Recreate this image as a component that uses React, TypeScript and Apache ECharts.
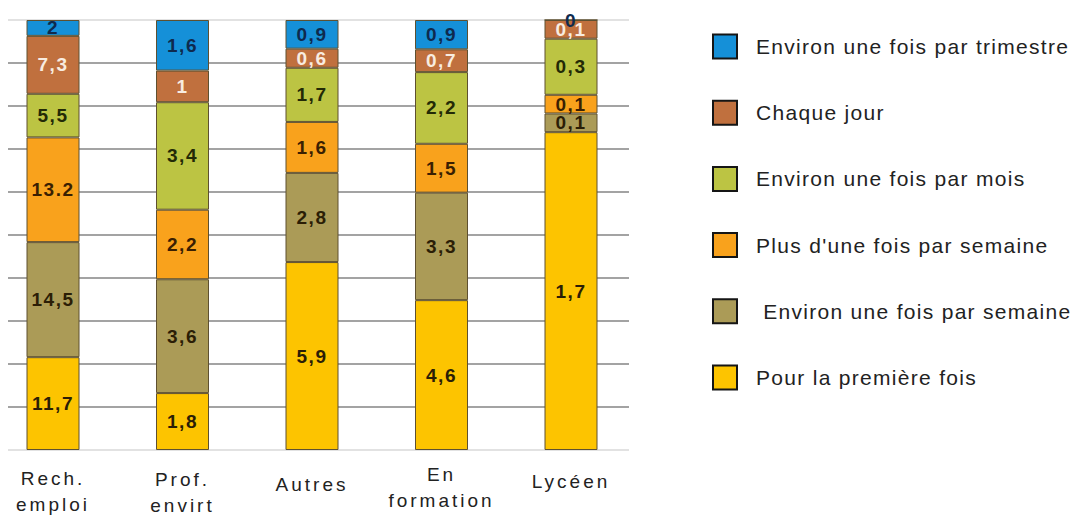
import React, { useEffect, useRef } from 'react';
import * as echarts from 'echarts';

const categories = ['Rech.\nemploi', 'Prof.\nenvirt', 'Autres', 'En\nformation', 'Lycéen'];
const categoryPadTop = [4, 5, 10, 0, 7];

const premiereFois = [11.7, 1.8, 5.9, 4.6, 1.7];
const environSemaine = [14.5, 3.6, 2.8, 3.3, 0.1];
const plusSemaine = [13.2, 2.2, 1.6, 1.5, 0.1];
const environMois = [5.5, 3.4, 1.7, 2.2, 0.3];
const chaqueJour = [7.3, 1, 0.6, 0.7, 0.1];
const trimestre = [2, 1.6, 0.9, 0.9, 0];

const seriesNames = [
  'Pour la première fois',
  ' Environ une fois par semaine',
  "Plus d'une fois par semaine",
  'Environ une fois par mois',
  'Chaque jour',
  'Environ une fois par trimestre',
];
const seriesValues = [premiereFois, environSemaine, plusSemaine, environMois, chaqueJour, trimestre];
const seriesColors = ['#fdc400', '#ab9b57', '#f9a21c', '#bcc443', '#c0703e', '#1590d8'];
const labelColors = ['#2b1e06', '#2b1e06', '#3a1f02', '#232a06', '#f8ece0', '#0e2a4e'];
// cells whose label was printed with a decimal point instead of a comma
const dotDecimalCells = [[2, 0]];

const legendOrder = [...seriesNames].reverse();

const totals = categories.map((_, i) => seriesValues.reduce((s, arr) => s + arr[i], 0));

const FONT = "'Liberation Sans', Arial, sans-serif";

export default function App() {
  const ref = useRef<HTMLDivElement>(null);
  useEffect(() => {
    const el = ref.current!;
    const chart = echarts.init(el, undefined, { renderer: 'svg' });
    const gridColors = Array.from({ length: 11 }, (_, i) => (i === 0 || i === 10 ? '#d9d9d9' : '#858585'));
    const option: any = {
      animation: false,
      backgroundColor: '#ffffff',
      grid: [
        { left: 8, top: 20, width: 621, height: 430, outerBoundsMode: 'none', containLabel: false },
        { left: -11.75, top: 20, width: 647.5, height: 430, outerBoundsMode: 'none', containLabel: false },
      ],
      xAxis: [
        { gridIndex: 0, type: 'category', data: categories, show: false },
        {
          gridIndex: 1,
          type: 'category',
          data: categories.map((c, i) => ({ value: c, textStyle: { padding: [categoryPadTop[i], 0, 0, 0] } })),
          axisLine: { show: false },
          axisTick: { show: false },
          splitLine: { show: false },
          axisLabel: {
            interval: 0,
            margin: 11,
            fontSize: 19,
            lineHeight: 26.5,
            color: '#222222',
            fontFamily: FONT,
          },
        },
      ],
      yAxis: [
        {
          gridIndex: 0,
          type: 'value',
          min: 0,
          max: 100,
          interval: 10,
          axisLine: { show: false },
          axisTick: { show: false },
          axisLabel: { show: false },
          splitLine: { show: true, lineStyle: { color: gridColors, width: 1.6 } },
        },
        { gridIndex: 1, type: 'value', min: 0, max: 100, interval: 10, show: false, splitLine: { show: false } },
      ],
      legend: {
        orient: 'vertical',
        left: 707,
        top: 28.5,
        itemWidth: 24,
        itemHeight: 24,
        itemGap: 40.2,
        icon: 'rect',
        data: legendOrder,
        selectedMode: false,
        itemStyle: { borderColor: '#151515', borderWidth: 2 },
        formatter: (name: string) => `{t|${name}}`,
        textStyle: {
          rich: { t: { fontSize: 21, color: '#222222', fontFamily: FONT, padding: [0, 0, 0, 14] } },
        },
      },
      series: seriesNames.map((name, si) => ({
        name,
        type: 'bar',
        stack: 'total',
        xAxisIndex: 1,
        yAxisIndex: 1,
        barWidth: 53,
        data: seriesValues[si].map((v, i) => (v / totals[i]) * 100),
        itemStyle: { color: seriesColors[si], borderColor: '#5e5030', borderWidth: 1 },
        label: {
          show: true,
          position: 'inside',
          color: labelColors[si],
          fontSize: 19,
          fontWeight: 'bold',
          fontFamily: FONT,
          formatter: (p: any) => {
            const raw = seriesValues[si][p.dataIndex];
            const dot = dotDecimalCells.some(([s, c]) => s === si && c === p.dataIndex);
            return dot ? String(raw) : String(raw).replace('.', ',');
          },
        },
      })),
    };
    chart.setOption(option);

    const xLines = new Set(categories.flatMap((c) => c.split('\n')));
    const legendSet = new Set(seriesNames);
    const applySpacing = () => {
      el.querySelectorAll('text').forEach((t) => {
        const s = t.textContent || '';
        if (xLines.has(s)) t.setAttribute('letter-spacing', '3');
        else if (legendSet.has(s)) t.setAttribute('letter-spacing', '1.3');
        else if (/^[0-9.,]+$/.test(s)) t.setAttribute('letter-spacing', '1.5');
      });
    };
    chart.on('finished', applySpacing);
    applySpacing();
    const timer = setTimeout(applySpacing, 50);
    return () => {
      clearTimeout(timer);
      chart.dispose();
    };
  }, []);
  return <div ref={ref} style={{ position: 'fixed', left: 0, top: 0, width: 1074, height: 518 }} />;
}
